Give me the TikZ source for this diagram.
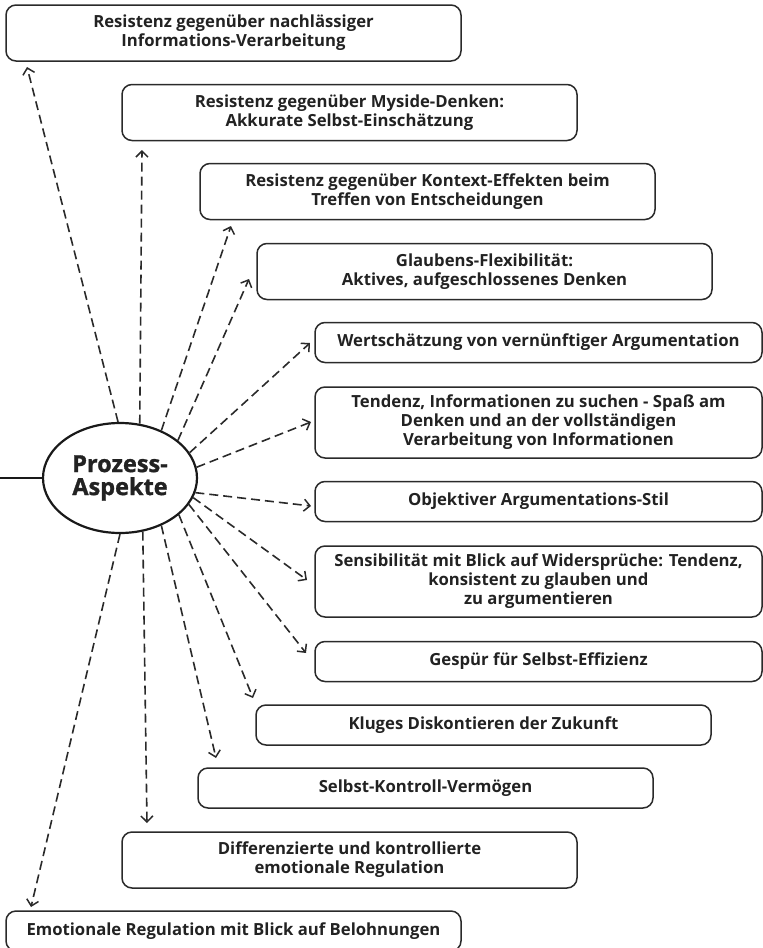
\documentclass[tikz,border=0pt]{standalone}
\usepackage{fontspec}
\setmainfont{Open Sans}
\newfontfamily\heavyfont{Open Sans}[BoldFeatures={FakeBold=1.2}]
\usetikzlibrary{arrows.meta,shapes.geometric}
\definecolor{ink}{HTML}{222222}
\definecolor{edge}{HTML}{2A2A2A}
\begin{document}
\begin{tikzpicture}[x=1pt,y=-1pt,
  item/.style={draw=edge,line width=1.5pt,rounded corners=10pt,minimum width=455pt,
    inner sep=0pt,align=center,text=ink,font=\bfseries\fontsize{16.7}{19}\selectfont},
  ritem/.style={item,minimum width=447pt},
  conn/.style={draw=edge,line width=1.6pt,dash pattern=on 9pt off 5pt,
    -{Straight Barb[length=6pt,width=12pt,line width=1.5pt]}},
  centre/.style={ellipse,draw=black!90,line width=2.2pt,minimum width=154pt,minimum height=110pt,
    inner sep=0pt,align=center,text=ink,font=\heavyfont\bfseries\fontsize{23.5}{23}\selectfont}]
\useasboundingbox (0,0) rectangle (763,948);
\begin{scope}
\clip (0,0) rectangle (763,948);
\node[centre] (P) at (120,478) {Prozess-\\Aspekte};
\coordinate (L) at (0,478);
\draw[draw=black!90,line width=2pt] (L) -- (P.west);

\node[item,minimum height=56pt] (b1) at (233.5,33) {Resistenz gegenüber nachlässiger\\Informations-Verarbeitung};
\node[item,minimum height=56pt] (b2) at (349.5,112.5) {Resistenz gegenüber Myside-Denken:\\Akkurate Selbst-Einschätzung};
\node[item,minimum height=56pt] (b3) at (427.5,191.5) {Resistenz gegenüber Kontext-Effekten beim\\Treffen von Entscheidungen};
\node[item,minimum height=56pt] (b4) at (484.5,271.5) {Glaubens-Flexibilität:\\Aktives, aufgeschlossenes Denken};
\node[ritem,minimum height=40pt] (b5) at (538.5,342.5) {Wertschätzung von vernünftiger Argumentation};
\node[ritem,minimum height=71pt] (b6) at (538.5,422.5) {Tendenz, Informationen zu suchen - Spaß am\\Denken und an der vollständigen\\Verarbeitung von Informationen};
\node[ritem,minimum height=40pt] (b7) at (538.5,501.5) {Objektiver Argumentations-Stil};
\node[ritem,minimum height=71pt] (b8) at (538.5,581.5) {Sensibilität mit Blick auf Widersprüche: Tendenz,\\konsistent zu glauben und\\zu argumentieren};
\node[ritem,minimum height=40pt] (b9) at (538.5,661.5) {Gespür für Selbst-Effizienz};
\node[item,minimum height=40pt] (b10) at (483.5,725) {Kluges Diskontieren der Zukunft};
\node[item,minimum height=40pt] (b11) at (425.5,788) {Selbst-Kontroll-Vermögen};
\node[item,minimum height=56pt] (b12) at (349.5,860) {Differenzierte und kontrollierte\\emotionale Regulation};
\node[item,minimum height=40pt] (b13) at (233.5,931) {Emotionale Regulation mit Blick auf Belohnungen};

\coordinate (t1) at (27,67);
\coordinate (t2) at (142,150);
\coordinate (t3) at (231,226);
\coordinate (t4) at (249,279);
\coordinate (t5) at (310,343);
\coordinate (t6) at (311,422);
\coordinate (t7) at (311,506);
\coordinate (t8) at (307,580);
\coordinate (t9) at (306,653);
\coordinate (t10) at (253,698);
\coordinate (t11) at (216,758);
\coordinate (t12) at (147,823);
\coordinate (t13) at (31,907);

\draw[conn] (P.92) -- (t1);
\draw[conn] (P.70) -- (t2);
\draw[conn] (P.49) -- (t3);
\draw[conn] (P.33) -- (t4);
\draw[conn] (P.20) -- (t5);
\draw[conn] (P.8) -- (t6);
\draw[conn] (P.-11) -- (t7);
\draw[conn] (P.-15) -- (t8);
\draw[conn] (P.-21) -- (t9);
\draw[conn] (P.-32) -- (t10);
\draw[conn] (P.-49) -- (t11);
\draw[conn] (P.-67) -- (t12);
\draw[conn] (P.-90) -- (t13);
\end{scope}
\end{tikzpicture}
\end{document}
